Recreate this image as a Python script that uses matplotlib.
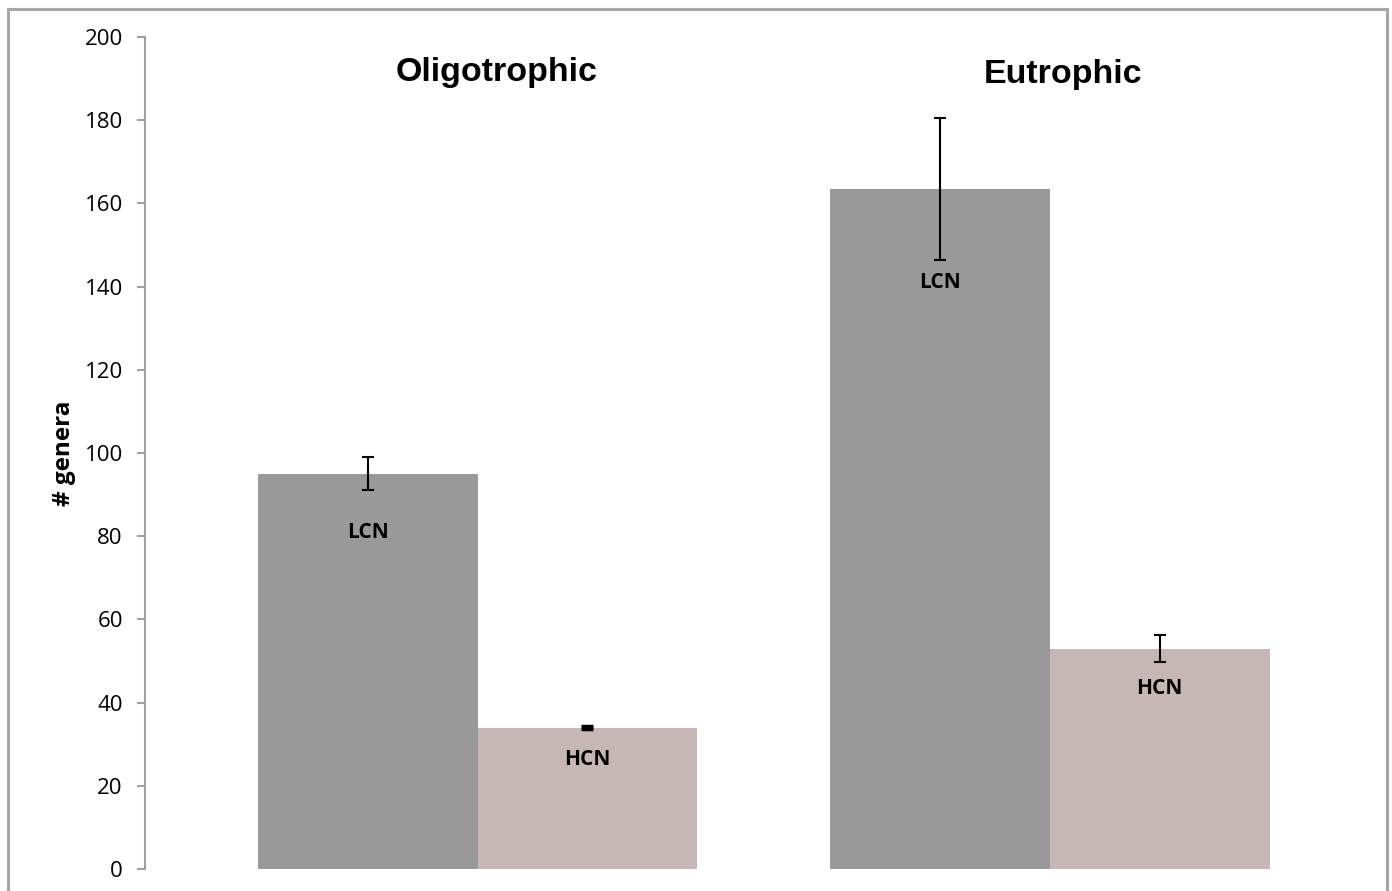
import matplotlib
matplotlib.use("Agg")
import matplotlib.pyplot as plt
from matplotlib.patches import Rectangle
import numpy as np

groups = ["Oligotrophic", "Eutrophic"]
series = ["LCN", "HCN"]
lcn_values = [95, 163.5]
lcn_errors = [4, 17]
hcn_values = [34, 53]
hcn_errors = [0.3, 3.3]
lcn_label_y = [81, 141]
hcn_label_y = [26.4, 43.5]
yticks = [0, 20, 40, 60, 80, 100, 120, 140, 160, 180, 200]

W, H = 1392, 891
fig = plt.figure(figsize=(W / 100, H / 100), dpi=100)
fig.patch.set_facecolor("white")

# outer frame
fig.add_artist(Rectangle((8 / W, -0.05), (1387 - 8) / W, 1.05 - 9 / H,
                         transform=fig.transFigure, fill=False,
                         edgecolor="#a6a6a6", linewidth=2.2))

ax = fig.add_axes([145 / W, 22 / H, (1387 - 145) / W, (869 - 37) / H])
ax.set_facecolor("none")

x = np.arange(len(groups))
bw = 0.384
lcn_color = "#999999"
hcn_color = "#c6b7b6"

ax.bar(x - bw / 2, lcn_values, bw, color=lcn_color, zorder=2)
ax.bar(x + bw / 2, hcn_values, bw, color=hcn_color, zorder=2)
ax.errorbar(x - bw / 2, lcn_values, yerr=lcn_errors, fmt="none", ecolor="black",
            capsize=4.5, elinewidth=1.5, capthick=1.5, zorder=3)
ax.errorbar(x[1:] + bw / 2, hcn_values[1:], yerr=hcn_errors[1:], fmt="none",
            ecolor="black", capsize=4.5, elinewidth=1.5, capthick=1.5, zorder=3)
ax.errorbar(x[:1] + bw / 2, hcn_values[:1], yerr=hcn_errors[:1], fmt="none",
            ecolor="black", capsize=4.0, elinewidth=1.5, capthick=2.5, zorder=3)

for i in range(len(groups)):
    ax.text(x[i] - bw / 2, lcn_label_y[i], series[0], ha="center", va="center",
            fontsize=15, fontweight="bold", family="Open Sans")
    ax.text(x[i] + bw / 2, hcn_label_y[i], series[1], ha="center", va="center",
            fontsize=15, fontweight="bold", family="Open Sans")

title_x = [0.034, 1.0225]
title_y = [191.5, 191]
for i, g in enumerate(groups):
    ax.text(title_x[i], title_y[i], g, ha="center", va="center", fontsize=24.5,
            fontweight="bold", family="Liberation Sans")

ax.set_xlim(-0.581, 1.589)
ax.set_ylim(0, 200)
ax.set_yticks(yticks)
ax.set_yticklabels([str(t) for t in yticks], family="Open Sans", fontsize=16)
ax.set_xticks([])
for s in ["top", "right", "bottom"]:
    ax.spines[s].set_visible(False)
ax.spines["left"].set_color("#a0a0a0")
ax.spines["left"].set_linewidth(1.5)
ax.tick_params(axis="y", length=6, width=1.5, color="#a0a0a0", pad=10)

ax.set_ylabel("# genera", fontsize=17.5, fontweight="bold", family="Open Sans",
              labelpad=6)

fig.savefig("out.png", dpi=100)
